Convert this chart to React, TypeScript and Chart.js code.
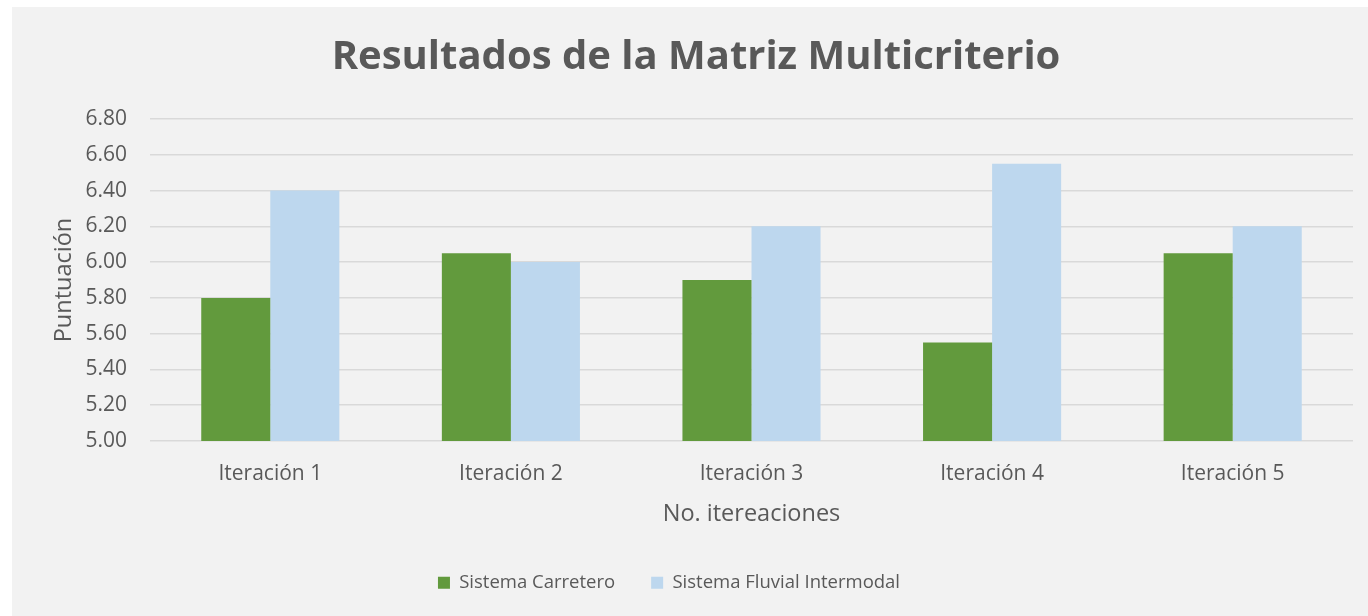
import React, { useEffect, useRef } from "react";
import { Chart, registerables } from "chart.js";

Chart.register(...registerables);

const categories = ["Iteración 1", "Iteración 2", "Iteración 3", "Iteración 4", "Iteración 5"];
const carreteroValues = [5.8, 6.05, 5.9, 5.55, 6.05];
const fluvialValues = [6.4, 6.0, 6.2, 6.55, 6.2];
const seriesNames = ["Sistema Carretero", "Sistema Fluvial Intermodal"];
const titleText = "Resultados de la Matriz Multicriterio";
const yTitle = "Puntuación";
const xTitle = "No. itereaciones";
const yMin = 5.0;
const yMax = 6.8;
const yStep = 0.2;

const TEXT = "#595959";
const FONT = "'Open Sans', sans-serif";

const legendShift = {
  id: "legendShift",
  afterLayout(chart: any) {
    const lg = chart.legend;
    if (lg) {
      lg.left -= 27;
      lg.right -= 27;
    }
  },
};

export default function App() {
  const ref = useRef<HTMLCanvasElement>(null);
  useEffect(() => {
    if (!ref.current) return;
    const chart = new Chart(ref.current, {
      type: "bar",
      data: {
        labels: categories,
        datasets: [
          {
            label: seriesNames[0],
            data: carreteroValues,
            backgroundColor: "#629a3d",
            categoryPercentage: 0.574,
            barPercentage: 1,
          },
          {
            label: seriesNames[1],
            data: fluvialValues,
            backgroundColor: "#bdd7ee",
            categoryPercentage: 0.574,
            barPercentage: 1,
          },
        ],
      },
      options: {
        responsive: false,
        animation: false,
        devicePixelRatio: 1,
        layout: { padding: { left: 12, right: 0, top: 0, bottom: 14 } },
        plugins: {
          title: {
            display: true,
            text: titleText,
            color: TEXT,
            font: { family: FONT, size: 40, weight: "bold", lineHeight: 1.2 },
            padding: { top: 27, bottom: 37 },
          },
          legend: {
            position: "bottom",
            labels: {
              color: TEXT,
              font: { family: FONT, size: 18.5 },
              boxWidth: 12,
              boxHeight: 12,
              padding: 36,
            },
          },
          tooltip: { enabled: false },
        },
        scales: {
          x: {
            grid: { display: false, drawTicks: false },
            border: { display: false },
            ticks: { color: TEXT, font: { family: FONT, size: 21 }, padding: 20.4 },
            title: {
              display: true,
              text: xTitle,
              color: TEXT,
              font: { family: FONT, size: 23.5, lineHeight: 1.2 },
              padding: { top: 0, bottom: 9.4 },
            },
            afterFit: (s: any) => {
              s.height = 96.5;
            },
          },
          y: {
            min: yMin,
            max: yMax,
            grid: { color: "#d9d9d9", lineWidth: 1.5, drawTicks: false },
            border: { display: false },
            ticks: {
              stepSize: yStep,
              color: TEXT,
              font: { family: FONT, size: 21 },
              padding: 23,
              callback: (v: any) => Number(v).toFixed(2),
            },
            title: {
              display: true,
              text: yTitle,
              color: TEXT,
              font: { family: FONT, size: 23.5, lineHeight: 1.2 },
              padding: { top: 25.9, bottom: 0 },
            },
            afterFit: (s: any) => {
              s.width = 126;
            },
          },
          y2: {
            position: "right",
            display: true,
            grid: { display: false, drawTicks: false },
            border: { display: false },
            ticks: { display: false },
            afterFit: (s: any) => {
              s.width = 15;
            },
          },
        },
      },
      plugins: [legendShift],
    });
    return () => chart.destroy();
  }, []);
  return (
    <div
      style={{
        position: "absolute",
        left: 12,
        top: 7,
        width: 1356,
        height: 609,
        background: "#f2f2f2",
      }}
    >
      <canvas ref={ref} width={1356} height={609} style={{ display: "block", width: 1356, height: 609 }} />
    </div>
  );
}
